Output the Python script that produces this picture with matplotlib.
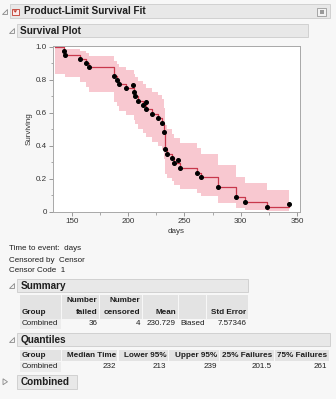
"""Product-limit (Kaplan-Meier) survival report: plot, summary and quantiles."""

import matplotlib
matplotlib.use("Agg")
import matplotlib.pyplot as plt
from matplotlib.patches import Rectangle, Polygon
import numpy as np

# ---- data -----------------------------------------------------------------
FAIL_DAYS = [143, 144, 157, 163, 165, 188, 188, 190, 192, 198,
             205, 206, 209, 213, 216, 221, 227, 230, 232, 232,
             233, 233, 233, 233, 235, 239, 241, 246, 261, 265,
             280, 280, 296, 296, 304, 323]
CENSOR_DAYS = [204, 216, 244, 343]
CURVE_START = 135

SUMMARY_COLS = ["Group", "Number\nfailed", "Number\ncensored", "Mean", "", "Std Error"]
SUMMARY_ROW = ["Combined", "36", "4", "230.729", "Biased", "7.57346"]
QUANT_COLS = ["Group", "Median Time", "Lower 95%", "Upper 95%", "25% Failures", "75% Failures"]
QUANT_ROW = ["Combined", "232", "213", "239", "201.5", "261"]

W, H = 336, 399
BG = "#f7f7f7"
BAR = "#e8e8e8"
BAR_EDGE = "#cccccc"
CELL = "#e3e3e3"
TXT = "#1e1e1e"
LINE_RED = "#c8384c"
BAND_PINK = "#f8c8d0"
FONT = "Liberation Sans"

plt.rcParams["font.family"] = [FONT, "DejaVu Sans"]


def km(fail, cens):
    fail = np.asarray(fail, float)
    allt = np.concatenate([fail, np.asarray(cens, float)])
    ut = np.unique(fail)
    s, var_sum = 1.0, 0.0
    surv, lo, hi = [], [], []
    for t in ut:
        n = np.sum(allt >= t)
        d = np.sum(fail == t)
        s *= (n - d) / n
        var_sum += d / (n * (n - d))
        # log(-log S) transformed 95% interval
        c = np.log(-np.log(s))
        se = np.sqrt(var_sum) / abs(np.log(s))
        surv.append(s)
        lo.append(np.exp(-np.exp(c + 1.96 * se)))
        hi.append(np.exp(-np.exp(c - 1.96 * se)))
    return ut, np.array(surv), np.array(lo), np.array(hi)


def fx(x):
    return x / W


def fy(y):
    return 1 - y / H


fig = plt.figure(figsize=(W / 100, H / 100), dpi=100, facecolor=BG)


def header_bar(x0, x1, y0, y1, label, size=7.2, opened=True, tri_x=None, text_x=None):
    fig.patches.append(Rectangle((fx(x0), fy(y1)), fx(x1 - x0), (y1 - y0) / H,
                                 transform=fig.transFigure, facecolor=BAR,
                                 edgecolor=BAR_EDGE, linewidth=0.6))
    lx = text_x if text_x is not None else x0 + 3.5
    fig.text(fx(lx), fy((y0 + y1) / 2 + 0.3), label, fontsize=size, fontweight="bold",
             color=TXT, va="center", ha="left")
    tx = tri_x if tri_x is not None else x0 - 6
    cy = (y0 + y1) / 2
    if opened:
        pts = [(tx - 2.5, cy + 2.5), (tx + 2.5, cy + 2.5), (tx + 2.5, cy - 2.5)]
    else:
        pts = [(tx - 2, cy - 3), (tx - 2, cy + 3), (tx + 2.5, cy)]
    fig.patches.append(Polygon([(fx(a), fy(b)) for a, b in pts], closed=True,
                               transform=fig.transFigure, facecolor="#f4f4f4",
                               edgecolor="#8a8a8a", linewidth=0.6))


# ---- report headers -------------------------------------------------------
header_bar(10, 330, 4, 18, "Product-Limit Survival Fit", tri_x=4, text_x=23.5)
# red popup menu icon
fig.patches.append(Rectangle((fx(12), fy(14.5)), fx(6.5), 6 / H, transform=fig.transFigure,
                             facecolor="#fbeaea", edgecolor="#c0392b", linewidth=0.6))
fig.patches.append(Polygon([(fx(13.3), fy(10.3)), (fx(17.2), fy(10.3)), (fx(15.25), fy(12.8))],
                           transform=fig.transFigure, facecolor="#c0392b", edgecolor="none"))
# window icon at the right end
fig.patches.append(Rectangle((fx(317), fy(16)), fx(9), 8 / H, transform=fig.transFigure,
                             facecolor="#f2f2f2", edgecolor="#9a9a9a", linewidth=0.6))
fig.patches.append(Rectangle((fx(319.5), fy(13.5)), fx(4), 3.5 / H, transform=fig.transFigure,
                             facecolor="#9a9a9a", edgecolor="none"))

header_bar(17, 308, 24, 37, "Survival Plot")

# ---- survival plot --------------------------------------------------------
ax = fig.add_axes([fx(53), fy(211.7), fx(247), 166 / H])
ax.set_facecolor("white")

ut, surv, lo, hi = km(FAIL_DAYS, CENSOR_DAYS)
t_end = max(CENSOR_DAYS + FAIL_DAYS)
xs = np.concatenate([[CURVE_START], ut, [t_end]])
ys = np.concatenate([[1.0], surv, [surv[-1]]])
lo_s = np.concatenate([[lo[0]], lo, [lo[-1]]])
hi_s = np.concatenate([[hi[0]], hi, [hi[-1]]])

ax.fill_between(xs, lo_s, hi_s, step="post", color=BAND_PINK, linewidth=0, zorder=1)
ax.step(xs, ys, where="post", color=LINE_RED, linewidth=0.9, zorder=2)
ax.plot(ut, surv, "o", color="black", markersize=2.6, zorder=3)

# censored observations sit just above the step
cens = np.asarray(CENSOR_DAYS, float)
s_before = np.array([np.concatenate([[1.0], surv])[np.sum(ut < c)] for c in cens])
ax.plot(cens, s_before + 0.017, "o", color="black", markersize=2.6, zorder=3,
        clip_on=False)

ax.set_xlim(133.5, 352.5)
ax.set_ylim(0, 1.006)
ax.set_xticks([150, 200, 250, 300, 350])
ax.set_xticks([175, 225, 275, 325], minor=True)
ax.set_yticks([0, 0.2, 0.4, 0.6, 0.8, 1.0])
ax.set_yticklabels(["0", "0.2", "0.4", "0.6", "0.8", "1.0"])
ax.set_yticks([0.1, 0.3, 0.5, 0.7, 0.9], minor=True)
for side in ax.spines.values():
    side.set_color("#a8a8a8")
    side.set_linewidth(0.7)
ax.tick_params(which="major", length=3, width=0.6, color="#888888",
               labelsize=5.8, labelcolor="#333333", pad=1.5)
ax.tick_params(which="minor", length=1.8, width=0.5, color="#888888")
ax.set_xlabel("days", fontsize=5.8, color="#333333", labelpad=2.5)
ax.set_ylabel("Surviving", fontsize=5.8, color="#333333", labelpad=2.5)

# ---- variable notes -------------------------------------------------------
for y, s in [(249, "Time to event:  days"), (260, "Censored by  Censor"),
             (270.7, "Censor Code  1")]:
    fig.text(fx(9), fy(y), s, fontsize=5.8, color=TXT, va="center")


def table(cols, row, edges, top, head_bot, row_bot, head_lines, head_size=5.9):
    n = len(cols)
    for i in range(n):
        x0, x1 = edges[i] + 0.5, edges[i + 1] - 0.5
        fig.patches.append(Rectangle((fx(x0), fy(head_bot)), fx(x1 - x0), (head_bot - top) / H,
                                     transform=fig.transFigure, facecolor=CELL,
                                     edgecolor="none"))
    # row label cell
    fig.patches.append(Rectangle((fx(edges[0] + 0.5), fy(row_bot)), fx(edges[1] - edges[0] - 1),
                                 (row_bot - head_bot - 0.5) / H, transform=fig.transFigure,
                                 facecolor="#ececec", edgecolor="none"))
    for i, c in enumerate(cols):
        lines = c.split("\n")
        lines = [""] * (len(head_lines) - len(lines)) + lines
        for ly, txt in zip(head_lines, lines):
            if not txt:
                continue
            if i == 0:
                fig.text(fx(edges[0] + 2.5), fy(ly), txt, fontsize=head_size,
                         fontweight="bold", color=TXT, va="center", ha="left")
            else:
                fig.text(fx(edges[i + 1] - 2), fy(ly), txt, fontsize=head_size,
                         fontweight="bold", color=TXT, va="center", ha="right")
    ry = (head_bot + row_bot) / 2
    for i, v in enumerate(row):
        if i == 0:
            fig.text(fx(edges[0] + 2.5), fy(ry), v, fontsize=5.8, color=TXT, va="center")
        elif v == "Biased":
            fig.text(fx(edges[i] + 2), fy(ry), v, fontsize=5.8, color=TXT, va="center")
        else:
            fig.text(fx(edges[i + 1] - 2), fy(ry), v, fontsize=5.8, color=TXT,
                     va="center", ha="right")


header_bar(17, 248, 278.5, 292, "Summary")
table(SUMMARY_COLS, SUMMARY_ROW, [19, 61.5, 99.5, 142, 178, 206, 248.5],
      294.5, 318.5, 329, [301, 312])

header_bar(17, 330, 333, 346, "Quantiles")
table(QUANT_COLS, QUANT_ROW, [19, 61.5, 118, 168.5, 219, 274, 329.5],
      349.5, 361, 372, [355.3], head_size=5.9)

header_bar(17, 76.5, 375, 388.5, "Combined", opened=False, tri_x=5)

fig.savefig("out.png", dpi=100, facecolor=BG)
